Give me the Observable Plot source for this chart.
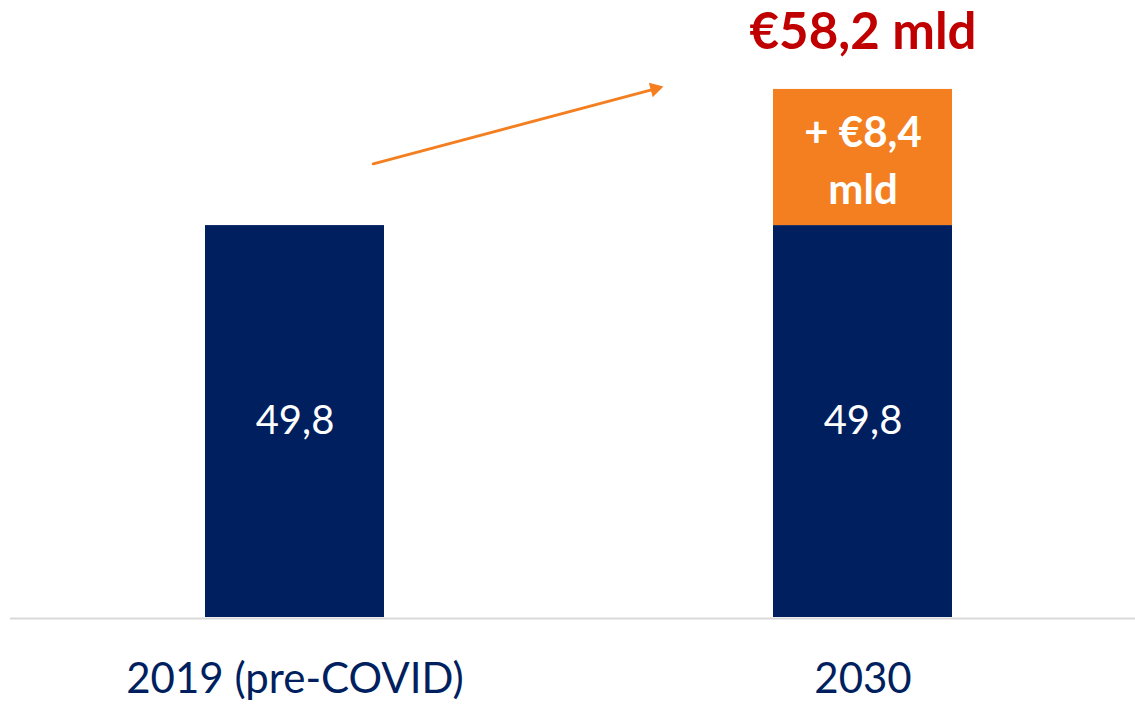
<!DOCTYPE html>
<html><head><meta charset="utf-8">
<script src="https://cdn.jsdelivr.net/npm/d3@7"></script>
<script src="https://cdn.jsdelivr.net/npm/@observablehq/plot@0.6"></script>
<style>
html,body{margin:0;padding:0;background:#fff;}
#chart svg{display:block;}
</style>
</head><body><div id="chart"></div>
<script>
// ---- data ----
const categories = ["2019 (pre-COVID)", "2030"];
const baseValues = [49.8, 49.8];
const baseLabels = ["49,8", "49,8"];
// height of the orange box as drawn in the picture (the box is not to scale with its label)
const increaseValues = [0, 17.3];
const increaseLabels = ["", "+ €8,4\nmld"];
const totalLabels = ["", "€58,2 mld"];
// growth arrow: start / end level (y units) of the annotation line
const arrowY = [55.0, 74.2];
const arrowHeadY = [67.18];

const NAVY = "#001F5F", ORANGE = "#F47F20", RED = "#C00000";
const FONT = "Lato, 'Noto Sans', sans-serif";

const rows = [];
categories.forEach((c, i) => {
  rows.push({cat: c, seg: "base", value: baseValues[i]});
  if (increaseValues[i] > 0) rows.push({cat: c, seg: "increase", value: increaseValues[i]});
});
const baseText = categories.map((c, i) => ({cat: c, y: baseValues[i] / 2, text: baseLabels[i]}));
const incText = categories.map((c, i) => ({cat: c, y: baseValues[i] + increaseValues[i] / 2, text: increaseLabels[i]})).filter(d => d.text);
const totText = categories.map((c, i) => ({cat: c, y: baseValues[i] + increaseValues[i], text: totalLabels[i]})).filter(d => d.text);

const chart = Plot.plot({
  width: 1135,
  height: 705,
  marginTop: 0,
  marginBottom: 88,
  marginLeft: 10,
  marginRight: 0,
  style: {fontFamily: FONT, background: "#fff"},
  x: {domain: categories, paddingInner: 0.685, paddingOuter: 0.3328, align: 0.5157, label: null},
  y: {domain: [0, 78.4], axis: null},
  color: {domain: ["base", "increase"], range: [NAVY, ORANGE]},
  marks: [
    Plot.ruleY([0], {stroke: "#D9D9D9", strokeWidth: 2, dy: 1}),
    Plot.barY(rows, {x: "cat", y: "value", fill: "seg"}),
    Plot.axisX({tickSize: 0, tickPadding: 46, fontSize: 42, fill: NAVY, label: null}),
    Plot.text(baseText, {x: "cat", y: "y", text: "text", fill: "white", fontSize: 40, fontFamily: FONT}),
    Plot.text(incText, {x: "cat", y: "y", text: "text", fill: "white", fontSize: 42, fontWeight: "bold", lineHeight: 1.35, fontFamily: FONT}),
    Plot.text(totText, {x: "cat", y: "y", text: "text", fill: RED, fontSize: 51, fontWeight: "bold", dy: -57, fontFamily: FONT}),
    Plot.arrow([0], {x1: () => categories[0], x2: () => categories[1], y1: () => arrowY[0], y2: () => arrowY[1],
      insetStart: 81, insetEnd: 216, headLength: 0, stroke: ORANGE, strokeWidth: 3}),
    Plot.dot([0], {x: () => categories[1], y: () => arrowHeadY[0], dx: -208, symbol: "triangle", r: 5.6, rotate: 75.1, fill: ORANGE, stroke: "none"})
  ]
});
document.getElementById("chart").appendChild(chart);
</script>
</body></html>
